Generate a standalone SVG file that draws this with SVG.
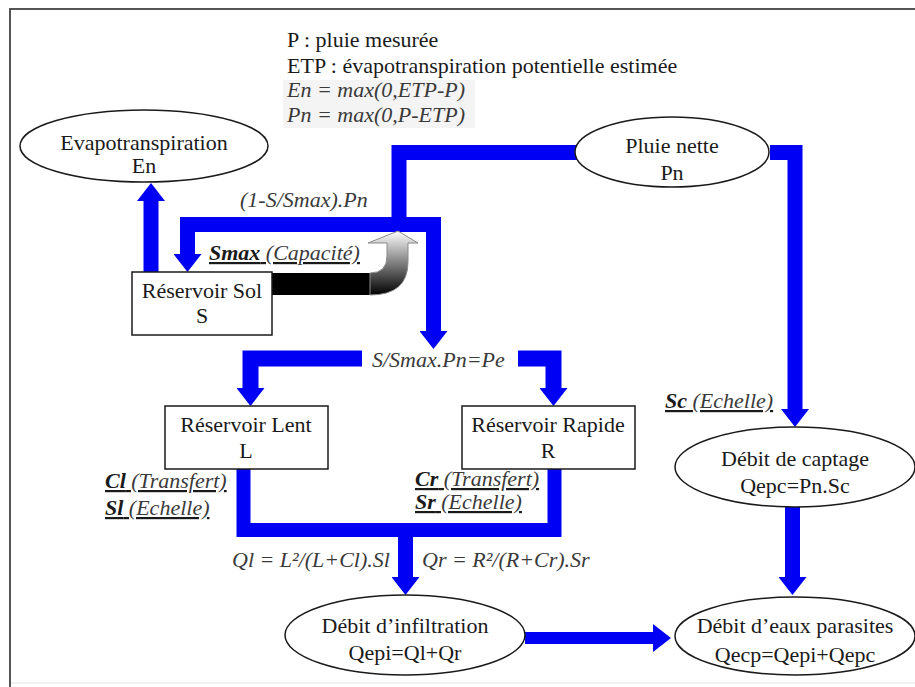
<svg xmlns="http://www.w3.org/2000/svg" width="915" height="687" viewBox="0 0 915 687">
<style>
text{font-family:'Liberation Serif','Times New Roman',Times,Tinos,'Nimbus Roman','FreeSerif','Noto Serif','DejaVu Serif',serif;font-size:22px;fill:#1a1a1a}
.c{text-anchor:middle}
.i{font-style:italic;fill:#3a3a3a}
.u{text-decoration:underline}
.b{font-weight:bold;fill:#1a1a1a}
.node{fill:#fff;stroke:#1a1a1a;stroke-width:1.5}
.flow{fill:none;stroke:#0000f5;stroke-linejoin:miter;stroke-linecap:butt}
</style>
<defs>
<marker id="ah" markerUnits="userSpaceOnUse" viewBox="0 0 18 28" markerWidth="18" markerHeight="28" refX="0" refY="14" orient="auto">
<path d="M0,0 L18,14 L0,28 Z" fill="#0000f5"/>
</marker>
<linearGradient id="gg" x1="0" y1="0" x2="0" y2="1">
<stop offset="0" stop-color="#ffffff"/>
<stop offset="1" stop-color="#000000"/>
</linearGradient>
</defs>
<rect width="915" height="687" fill="#fff"/>
<line x1="10" y1="9" x2="915" y2="9" stroke="#555" stroke-width="2"/>
<line x1="10" y1="8" x2="10" y2="687" stroke="#555" stroke-width="2"/>
<line x1="11" y1="683" x2="915" y2="683" stroke="#e4e4e4" stroke-width="1"/>

<g id="legend">
<rect x="283" y="80" width="192" height="48" fill="#f4f4f4"/>
<text x="287" y="47">P : pluie mesurée</text>
<text x="287" y="73">ETP : évapotranspiration potentielle estimée</text>
<text x="287" y="97" class="i">En = max(0,ETP-P)</text>
<text x="287" y="122" class="i">Pn = max(0,P-ETP)</text>
</g>

<g id="connectors">
<path class="flow" stroke-width="15" d="M151,272 V201" marker-end="url(#ah)"/>
<path class="flow" stroke-width="15" d="M577,152.5 H399 V224.5"/>
<path class="flow" stroke-width="15" d="M187.5,254 V224.5 H433.5 V331" marker-end="url(#ah)"/>
<path class="flow" stroke-width="15" d="M187.5,224.5 V254" marker-end="url(#ah)"/>
<path class="flow" stroke-width="15" d="M770,152.5 H795 V409" marker-end="url(#ah)"/>
<path class="flow" stroke-width="16" d="M362,358.5 H250.5 V388" marker-end="url(#ah)"/>
<path class="flow" stroke-width="16" d="M518,358.5 H553.5 V388" marker-end="url(#ah)"/>
<path class="flow" stroke-width="14" d="M243.5,469 V530 H554.5 V469"/>
<path class="flow" stroke-width="15" d="M405.5,530 V577" marker-end="url(#ah)"/>
<path class="flow" stroke-width="15" d="M792.5,507 V577" marker-end="url(#ah)"/>
<path class="flow" stroke-width="12" d="M525,638 H653" marker-end="url(#ah)"/>
<rect x="272" y="273" width="98" height="22" fill="#000"/>
<path d="M370,273 Q387,273 387,256 L387,243 L368,243 L398,231 L418,243 L408,243 L408,262 Q408,295 370,295 Z" fill="url(#gg)" stroke="#8a8a8a" stroke-width="1"/>
</g>

<g id="labels">
<text x="240" y="207" class="i">(1-S/Smax).Pn</text>
<text x="209" y="260" class="u"><tspan class="b i">Smax</tspan><tspan class="i"> (Capacité)</tspan></text>
<text x="372" y="367" class="i">S/Smax.Pn=Pe</text>
<text x="665" y="408" class="u"><tspan class="b i">Sc</tspan><tspan class="i"> (Echelle)</tspan></text>
<text x="105" y="488" class="u"><tspan class="b i">Cl</tspan><tspan class="i"> (Transfert)</tspan></text>
<text x="105" y="515" class="u"><tspan class="b i">Sl</tspan><tspan class="i"> (Echelle)</tspan></text>
<text x="415" y="486" class="u"><tspan class="b i">Cr</tspan><tspan class="i"> (Transfert)</tspan></text>
<text x="415" y="509" class="u"><tspan class="b i">Sr</tspan><tspan class="i"> (Echelle)</tspan></text>
<text x="232" y="567" class="i">Ql = L²/(L+Cl).Sl</text>
<text x="422" y="567" class="i">Qr = R²/(R+Cr).Sr</text>
</g>

<g id="evapotranspiration">
<ellipse class="node" cx="144" cy="146" rx="124" ry="36"/>
<text x="144" y="150" class="c">Evapotranspiration</text>
<text x="144" y="173" class="c">En</text>
</g>
<g id="pluie-nette">
<ellipse class="node" cx="672" cy="152" rx="97" ry="35"/>
<text x="672" y="153" class="c">Pluie nette</text>
<text x="672" y="180" class="c">Pn</text>
</g>
<g id="reservoir-sol">
<rect class="node" x="132" y="272" width="140" height="63"/>
<text x="202" y="298" class="c">Réservoir Sol</text>
<text x="202" y="323" class="c">S</text>
</g>
<g id="reservoir-lent">
<rect class="node" x="165" y="406" width="163" height="63"/>
<text x="246" y="432" class="c">Réservoir Lent</text>
<text x="246" y="458" class="c">L</text>
</g>
<g id="reservoir-rapide">
<rect class="node" x="462" y="406" width="173" height="63"/>
<text x="548" y="432" class="c">Réservoir Rapide</text>
<text x="548" y="458" class="c">R</text>
</g>
<g id="debit-captage">
<ellipse class="node" cx="795" cy="467" rx="120" ry="40"/>
<text x="795" y="466" class="c">Débit de captage</text>
<text x="795" y="493" class="c">Qepc=Pn.Sc</text>
</g>
<g id="debit-infiltration">
<ellipse class="node" cx="405" cy="635" rx="120" ry="40"/>
<text x="405" y="633" class="c">Débit d’infiltration</text>
<text x="405" y="660" class="c">Qepi=Ql+Qr</text>
</g>
<g id="debit-parasites">
<ellipse class="node" cx="795" cy="636" rx="120" ry="39"/>
<text x="795" y="633" class="c">Débit d’eaux parasites</text>
<text x="795" y="662" class="c">Qecp=Qepi+Qepc</text>
</g>
</svg>
